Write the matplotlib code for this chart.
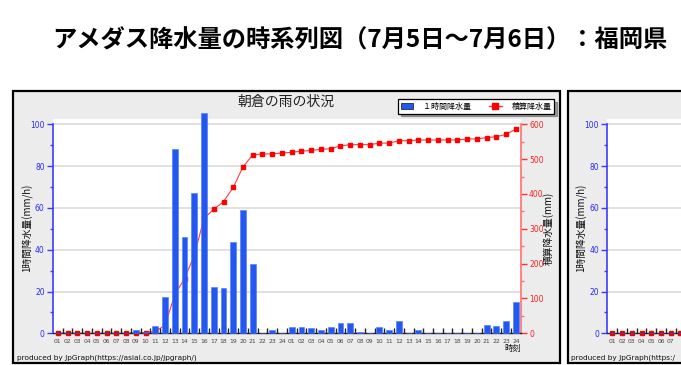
import matplotlib
matplotlib.use("Agg")
import matplotlib.pyplot as plt
from matplotlib.patches import Rectangle
from matplotlib.lines import Line2D
from matplotlib.ticker import FixedLocator

plt.rcParams["font.family"] = ["Noto Sans CJK JP", "DejaVu Sans"]
plt.rcParams["axes.unicode_minus"] = False

# x-axis labels: 7/5 01..24, 7/6 01..24
hour_labels = [f"{h:02d}" for h in range(1, 25)] * 2

# 朝倉 1時間降水量 (mm/h)
asakura_hourly = [
    0, 0, 0, 0, 0, 0, 0, 0, 1.5, 0.5, 3.7, 17.5,
    88, 46, 67, 105.5, 22.3, 21.8, 43.7, 59, 33.2, 0, 1.5, 0,
    3.2, 3.2, 2.6, 1.6, 3.2, 4.8, 4.8, 0.8, 0, 3.2, 1.5, 6.0,
    0, 1.5, 0, 0, 0, 0, 0, 0, 3.8, 3.3, 6.1, 15.0,
]
# 朝倉 積算降水量 (mm)
asakura_cumulative = [
    0, 0, 0, 0, 0, 0, 0, 0, 1.5, 2, 5.5, 23,
    111, 157, 224, 330, 356, 378, 419, 478, 512, 515, 515, 517.6,
    519.6, 523, 525, 528, 530, 538, 541.6, 541.6, 541.6, 546, 546, 553,
    553, 555, 555, 555, 555, 555, 558, 558, 561.7, 564.6, 571, 586.6,
]
# second station (only the first hours are inside the picture)
second_hourly = [0, 0, 0, 0, 0, 0, 0, 0]
second_cumulative = [0, 0, 0, 0, 0, 0, 0, 0]

W, H = 681, 365
fig = plt.figure(figsize=(W / 100, H / 100), dpi=100)
fig.patch.set_facecolor("white")


def fx(px):
    return px / W


def fy(py):
    return 1 - py / H


BLUE_AX = "#3c3cff"
RED_AX = "#ff7070"


def draw_panel(dx, hourly, cumulative, station=None, full=True):
    # panel frame
    fig.patches.append(Rectangle((fx(13.3 + dx), fy(363)), fx(546.5), fy(90.7) - fy(363),
                                 transform=fig.transFigure, facecolor="#ececec",
                                 edgecolor="black", linewidth=1.6, zorder=0))

    ax = fig.add_axes([fx(53 + dx), fy(333.3), fx(467.7), fy(119.3) - fy(333.3)])
    ax.set_zorder(2)
    ax.patch.set_visible(False)
    x = list(range(len(hourly)))
    ax.bar(x, hourly, width=0.6, color="#2358f0", edgecolor="#4a78ff", linewidth=0.4,
           zorder=3, clip_on=False)
    ax.set_xlim(-0.5, 47.5)
    ax.set_ylim(0, 102.4)
    ax.yaxis.set_major_locator(FixedLocator([0, 20, 40, 60, 80, 100]))
    ax.yaxis.set_minor_locator(FixedLocator([10, 30, 50, 70, 90]))
    ax.set_xticks(range(48))
    labels = hour_labels if full else hour_labels[:7] + [""] * 41
    ax.set_xticklabels(labels, fontsize=4.3, color="#444444", family="DejaVu Sans")
    ax.set_xticks([i + 0.5 for i in range(47)], minor=True)
    ax.tick_params(axis="x", which="major", length=0, pad=4)
    ax.tick_params(axis="x", which="minor", direction="in", length=3.5, width=1.0, color="#222222")
    ax.tick_params(axis="y", which="major", direction="out", length=4, width=1, color=BLUE_AX,
                   labelcolor="#2a2aff", labelsize=5.5, pad=2)
    ax.tick_params(axis="y", which="minor", direction="out", length=2.5, width=1, color=BLUE_AX)
    for lab in ax.get_yticklabels():
        lab.set_family("DejaVu Sans")
    for s in ["top", "right"]:
        ax.spines[s].set_visible(False)
    ax.spines["left"].set_color(BLUE_AX)
    ax.spines["left"].set_linewidth(1.2)
    ax.spines["left"].set_bounds(0, 100)
    ax.spines["bottom"].set_color("#222222")
    ax.spines["bottom"].set_linewidth(1.0)

    ax2 = ax.twinx()
    ax2.set_zorder(1)
    ax2.patch.set_visible(True)
    ax2.patch.set_facecolor("white")
    ax2.set_ylim(0, 102.4 * 6)
    for v in [120, 240, 360, 480, 600]:
        ax2.axhline(v, color="#dcdcdc", linewidth=1.2, zorder=0)
    ax2.plot(range(len(cumulative)), cumulative, color="#ff3c3c", linewidth=0.8,
             marker="s", markersize=3.2, markerfacecolor="#ff0000", markeredgecolor="#ff0000",
             zorder=2, clip_on=False)
    for s in ["top", "left", "bottom"]:
        ax2.spines[s].set_visible(False)
    if full:
        ax2.yaxis.set_major_locator(FixedLocator([0, 100, 200, 300, 400, 500, 600]))
        ax2.yaxis.set_minor_locator(FixedLocator([50, 150, 250, 350, 450, 550]))
        ax2.tick_params(axis="y", which="major", direction="out", length=4, width=1, color="#ff3030",
                        labelcolor="#ff2020", labelsize=5.5, pad=2)
        ax2.tick_params(axis="y", which="minor", direction="out", length=2.5, width=1, color=RED_AX)
        for lab in ax2.get_yticklabels():
            lab.set_family("DejaVu Sans")
        ax2.spines["right"].set_color(RED_AX)
        ax2.spines["right"].set_linewidth(1.2)
        ax2.spines["right"].set_bounds(0, 600)
    else:
        ax2.set_yticks([])
        ax2.spines["right"].set_visible(False)

    fig.text(fx(27 + dx), fy(228), "1時間降水量(mm/h)", rotation=90, ha="center", va="center",
             fontsize=7, color="#111111")
    if full:
        fig.text(fx(548 + dx), fy(228), "積算降水量(mm)", rotation=90, ha="center", va="center",
                 fontsize=7, color="#111111")
        fig.text(fx(513 + dx), fy(348), "時刻", ha="center", va="center", fontsize=6, color="#111111")
        fig.text(fx(17 + dx), fy(357.5), "produced by JpGraph(https://asial.co.jp/jpgraph/)",
                 ha="left", va="center", fontsize=5.3, family="DejaVu Sans", color="#111111")
    else:
        fig.text(fx(17 + dx), fy(357.5), "produced by JpGraph(https:/",
                 ha="left", va="center", fontsize=5.3, family="DejaVu Sans", color="#111111")
    if station:
        fig.text(fx(286 + dx), fy(101.5), station, ha="center", va="center",
                 fontsize=10, color="#222222")
        handles = [
            Rectangle((0, 0), 1, 1, facecolor="#2358f0", edgecolor="#111111", linewidth=0.5),
            Line2D([], [], color="#ff3c3c", linewidth=1.0, marker="s", markersize=4,
                   markerfacecolor="#ff0000", markeredgecolor="#ff0000"),
        ]
        leg = fig.legend(handles, ["１時間降水量", "積算降水量"], loc="center",
                         bbox_to_anchor=(fx(476 + dx), fy(106.3)), ncol=2, fontsize=5.8,
                         frameon=True, fancybox=False, shadow=True, edgecolor="black",
                         framealpha=1, borderpad=0.35, handlelength=1.6, handleheight=0.8,
                         columnspacing=2.2, handletextpad=1.2)
        leg.get_frame().set_linewidth(0.9)
    return ax


draw_panel(0, asakura_hourly, asakura_cumulative, station="朝倉の雨の状況")
draw_panel(554.4, second_hourly, second_cumulative, full=False)

fig.text(fx(360), fy(41), "アメダス降水量の時系列図（7月5日～7月6日）：福岡県",
         ha="center", va="center", fontsize=17.5, fontweight="bold", color="black")

fig.savefig("out.png", dpi=100)
